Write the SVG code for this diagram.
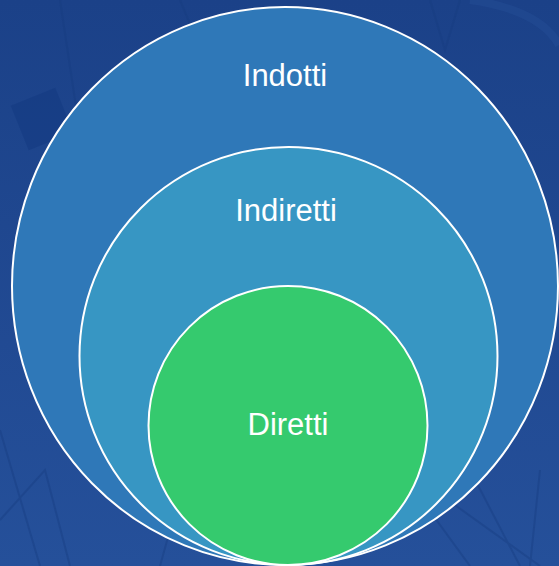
<svg xmlns="http://www.w3.org/2000/svg" width="559" height="566" viewBox="0 0 559 566">
  <defs>
    <linearGradient id="bg" x1="0" y1="0" x2="0" y2="1">
      <stop offset="0" stop-color="#1b4188"/>
      <stop offset="1" stop-color="#25509a"/>
    </linearGradient>
    <style>
      .ring { stroke: #ffffff; stroke-width: 2; }
      .lbl { font-family: "Liberation Sans", Arial, sans-serif; font-size: 31px; fill: #ffffff; text-anchor: middle; }
      .bgline { stroke: #163c80; stroke-width: 2; fill: none; opacity: 0.4; }
    </style>
  </defs>
  <rect width="559" height="566" fill="url(#bg)"/>
  <g id="background">
    <rect x="18" y="95" width="48" height="48" fill="#143a82" opacity="0.6" transform="rotate(-22 42 119)"/>
    <path class="bgline" d="M60 0 L90 200 M180 0 L230 120 M430 0 L445 50 L460 0 M0 430 L40 566 M0 520 L45 470 L70 566 M400 470 L470 566 M420 480 L540 566 M470 470 L520 566 M540 470 L530 566 M170 530 L160 566"/>
    <path d="M470 0 Q540 10 559 45" stroke="#3060a8" stroke-width="8" fill="none" opacity="0.2"/>
  </g>
  <g id="node-indotti">
    <ellipse class="ring" cx="285" cy="286" rx="273" ry="279" fill="#2f78b8"/>
    <text class="lbl" x="285" y="86">Indotti</text>
  </g>
  <g id="node-indiretti">
    <circle class="ring" cx="288.5" cy="356" r="209" fill="#3796c3"/>
    <text class="lbl" x="286" y="221">Indiretti</text>
  </g>
  <g id="node-diretti">
    <circle class="ring" cx="288" cy="425.5" r="139.5" fill="#35ca6e"/>
    <text class="lbl" x="288" y="435">Diretti</text>
  </g>
  <g id="connectors"/>
</svg>
